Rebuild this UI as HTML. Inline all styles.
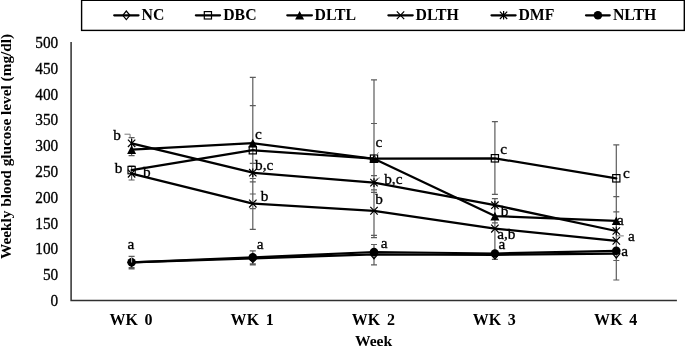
<!DOCTYPE html>
<html><head><meta charset="utf-8"><title>Weekly blood glucose level</title>
<style>
html,body{margin:0;padding:0;background:#fff;}
body{width:685px;height:346px;overflow:hidden;}
svg{display:block;will-change:transform;}
text{font-family:"Liberation Serif","Times New Roman",serif;font-size:15.3px;fill:#000;}
.b{font-weight:bold;stroke:none;}
.r{stroke:#000;stroke-width:0.3;}
.ln{fill:none;stroke:#000;stroke-width:2.25;stroke-linecap:round;stroke-linejoin:round;}
.eb{stroke:#5c5c5c;stroke-width:1.2;fill:none;}
.ld{stroke:#7a7a7a;stroke-width:1;fill:none;}
.mk{stroke:#000;stroke-width:1.2;fill:none;}
</style></head><body>
<svg width="685" height="346" viewBox="0 0 685 346">
<rect x="0" y="0" width="685" height="346" fill="#fff"/>
<rect x="81.6" y="0.3" width="602.7" height="30.1" fill="#fff" stroke="#000" stroke-width="1.4"/>
<path class="ln" stroke-width="2.4" d="M114.2,15.3 L138.5,15.3"/>
<path class="mk" d="M122.8,15.3 L126.3,11.0 L129.9,15.3 L126.3,19.6 Z"/>
<text class="b" x="141.6" y="20.4" style="font-size:15.8px">NC</text>
<path class="ln" stroke-width="2.4" d="M195.9,15.3 L220.0,15.3"/>
<rect class="mk" x="204.3" y="11.6" width="7.2" height="7.4" stroke-width="1.2"/>
<text class="b" x="223.2" y="20.4" style="font-size:15.8px">DBC</text>
<path class="ln" stroke-width="2.4" d="M287.3,15.3 L311.9,15.3"/>
<path d="M299.6,10.9 L304.1,19.6 L295.1,19.6 Z" fill="#000"/>
<text class="b" x="314.6" y="20.4" style="font-size:15.8px">DLTL</text>
<path class="ln" stroke-width="2.4" d="M388.4,15.3 L412.7,15.3"/>
<path class="mk" d="M396.8,11.4 L404.2,19.2 M404.2,11.4 L396.8,19.2"/>
<text class="b" x="415.6" y="20.4" style="font-size:15.8px">DLTH</text>
<path class="ln" stroke-width="2.4" d="M491.5,15.3 L515.6,15.3"/>
<path class="mk" d="M499.9,11.6 L507.2,19.0 M507.2,11.6 L499.9,19.0 M503.6,11.0 L503.6,19.6"/>
<text class="b" x="518.4" y="20.4" style="font-size:15.8px">DMF</text>
<path class="ln" stroke-width="2.4" d="M586.0,15.3 L609.7,15.3"/>
<circle cx="597.9" cy="15.3" r="4.3" fill="#000"/>
<text class="b" x="612.9" y="20.4" style="font-size:15.8px">NLTH</text>
<path d="M71.1,42 L71.1,300.4 L676.9,300.4" fill="none" stroke="#303030" stroke-width="1.5"/>
<text class="r" transform="matrix(1 0 0 1.1 0 -30.60)" x="58.2" y="306.0" text-anchor="end">0</text>
<text class="r" transform="matrix(1 0 0 1.1 0 -28.02)" x="58.2" y="280.2" text-anchor="end">50</text>
<text class="r" transform="matrix(1 0 0 1.1 0 -25.44)" x="58.2" y="254.4" text-anchor="end">100</text>
<text class="r" transform="matrix(1 0 0 1.1 0 -22.86)" x="58.2" y="228.6" text-anchor="end">150</text>
<text class="r" transform="matrix(1 0 0 1.1 0 -20.28)" x="58.2" y="202.8" text-anchor="end">200</text>
<text class="r" transform="matrix(1 0 0 1.1 0 -17.70)" x="58.2" y="177.0" text-anchor="end">250</text>
<text class="r" transform="matrix(1 0 0 1.1 0 -15.12)" x="58.2" y="151.2" text-anchor="end">300</text>
<text class="r" transform="matrix(1 0 0 1.1 0 -12.54)" x="58.2" y="125.4" text-anchor="end">350</text>
<text class="r" transform="matrix(1 0 0 1.1 0 -9.96)" x="58.2" y="99.6" text-anchor="end">400</text>
<text class="r" transform="matrix(1 0 0 1.1 0 -7.38)" x="58.2" y="73.8" text-anchor="end">450</text>
<text class="r" transform="matrix(1 0 0 1.1 0 -4.80)" x="58.2" y="48.0" text-anchor="end">500</text>
<text class="b" x="131.0" y="324.5" text-anchor="middle" style="font-size:16px;word-spacing:2.4px;letter-spacing:0.1px">WK 0</text>
<text class="b" x="252.2" y="324.5" text-anchor="middle" style="font-size:16px;word-spacing:2.4px;letter-spacing:0.1px">WK 1</text>
<text class="b" x="373.4" y="324.5" text-anchor="middle" style="font-size:16px;word-spacing:2.4px;letter-spacing:0.1px">WK 2</text>
<text class="b" x="494.3" y="324.5" text-anchor="middle" style="font-size:16px;word-spacing:2.4px;letter-spacing:0.1px">WK 3</text>
<text class="b" x="615.7" y="324.5" text-anchor="middle" style="font-size:16px;word-spacing:2.4px;letter-spacing:0.1px">WK 4</text>
<text class="b" x="373.6" y="345.5" text-anchor="middle" style="font-size:15.6px">Week</text>
<text class="b" transform="translate(11,146.4) rotate(-90)" text-anchor="middle">Weekly blood glucose level (mg/dl)</text>
<path class="eb" d="M131.6,137.6 L131.6,155.7 M128.6,137.6 L134.6,137.6 M128.6,155.7 L134.6,155.7"/>
<path class="eb" d="M131.6,166.2 L131.6,180.0 M128.6,166.2 L134.6,166.2 M128.6,180.0 L134.6,180.0"/>
<path class="eb" d="M131.6,256.4 L131.6,268.8 M128.6,256.4 L134.6,256.4 M128.6,267.7 L134.6,267.7 M128.6,268.8 L134.6,268.8"/>
<path class="eb" d="M252.8,77.3 L252.8,229.4 M249.8,77.3 L255.8,77.3 M249.8,105.7 L255.8,105.7 M249.8,163.4 L255.8,163.4 M249.8,178.5 L255.8,178.5 M249.8,181.9 L255.8,181.9 M249.8,194.0 L255.8,194.0 M249.8,208.7 L255.8,208.7 M249.8,229.4 L255.8,229.4"/>
<path class="eb" d="M252.8,250.8 L252.8,265.0 M249.8,250.8 L255.8,250.8 M249.8,263.8 L255.8,263.8 M249.8,265.0 L255.8,265.0"/>
<path class="eb" d="M374.0,79.8 L374.0,237.7 M371.0,79.8 L377.0,79.8 M371.0,123.5 L377.0,123.5 M371.0,175.7 L377.0,175.7 M371.0,189.8 L377.0,189.8 M371.0,192.3 L377.0,192.3 M371.0,235.4 L377.0,235.4 M371.0,237.7 L377.0,237.7"/>
<path class="eb" d="M374.0,244.5 L374.0,264.9 M371.0,244.5 L377.0,244.5 M371.0,264.9 L377.0,264.9"/>
<path class="eb" d="M494.9,121.7 L494.9,194.3 M491.9,121.7 L497.9,121.7 M491.9,194.3 L497.9,194.3"/>
<path class="eb" d="M494.9,198.6 L494.9,259.3 M491.9,198.6 L497.9,198.6 M491.9,222.9 L497.9,222.9 M491.9,259.3 L497.9,259.3"/>
<path class="eb" d="M616.3,144.9 L616.3,280.0 M613.3,144.9 L619.3,144.9 M613.3,196.6 L619.3,196.6 M613.3,211.8 L619.3,211.8 M613.3,260.5 L619.3,260.5 M613.3,280.0 L619.3,280.0"/>
<path class="ln" d="M131.6,262.3 L252.8,258.3 L374.0,254.4 L494.9,254.8 L616.3,253.7"/>
<path class="ln" d="M131.6,170.1 L252.8,150.2 L374.0,158.7 L494.9,158.3 L616.3,178.3"/>
<path class="ln" d="M131.6,149.6 L252.8,143.2 L374.0,158.8 L494.9,216.1 L616.3,220.8"/>
<path class="ln" d="M131.6,173.6 L252.8,203.6 L374.0,210.8 L494.9,228.6 L616.3,240.8"/>
<path class="ln" d="M131.6,143.3 L252.8,172.7 L374.0,182.6 L494.9,205.2 L616.3,231.0"/>
<path class="ln" d="M131.6,262.3 L252.8,257.4 L374.0,252.0 L494.9,253.5 L616.3,250.8"/>
<path class="mk" d="M128.0,262.3 L131.6,258.0 L135.2,262.3 L131.6,266.6 Z"/>
<path class="mk" d="M249.2,258.3 L252.8,254.0 L256.4,258.3 L252.8,262.6 Z"/>
<path class="mk" d="M370.4,254.4 L374.0,250.1 L377.6,254.4 L374.0,258.7 Z"/>
<path class="mk" d="M491.3,254.8 L494.9,250.5 L498.5,254.8 L494.9,259.1 Z"/>
<path class="mk" d="M612.7,253.7 L616.3,249.4 L619.9,253.7 L616.3,258.0 Z"/>
<rect class="mk" x="128.0" y="166.4" width="7.2" height="7.4" stroke-width="1.2"/>
<rect class="mk" x="249.2" y="146.5" width="7.2" height="7.4" stroke-width="1.2"/>
<rect class="mk" x="370.4" y="155.0" width="7.2" height="7.4" stroke-width="1.2"/>
<rect class="mk" x="491.3" y="154.6" width="7.2" height="7.4" stroke-width="1.2"/>
<rect class="mk" x="612.7" y="174.6" width="7.2" height="7.4" stroke-width="1.2"/>
<path d="M131.6,145.2 L136.1,153.9 L127.1,153.9 Z" fill="#000"/>
<path d="M252.8,138.8 L257.3,147.5 L248.3,147.5 Z" fill="#000"/>
<path d="M374.0,154.4 L378.5,163.1 L369.5,163.1 Z" fill="#000"/>
<path d="M494.9,211.7 L499.4,220.4 L490.4,220.4 Z" fill="#000"/>
<path d="M616.3,216.4 L620.8,225.1 L611.8,225.1 Z" fill="#000"/>
<path class="mk" d="M127.9,169.7 L135.3,177.5 M135.3,169.7 L127.9,177.5"/>
<path class="mk" d="M249.1,199.7 L256.5,207.5 M256.5,199.7 L249.1,207.5"/>
<path class="mk" d="M370.3,206.9 L377.7,214.7 M377.7,206.9 L370.3,214.7"/>
<path class="mk" d="M491.2,224.7 L498.6,232.5 M498.6,224.7 L491.2,232.5"/>
<path class="mk" d="M612.6,236.9 L620.0,244.7 M620.0,236.9 L612.6,244.7"/>
<path class="mk" d="M127.9,139.6 L135.3,147.0 M135.3,139.6 L127.9,147.0 M131.6,139.0 L131.6,147.6"/>
<path class="mk" d="M249.1,169.0 L256.5,176.4 M256.5,169.0 L249.1,176.4 M252.8,168.4 L252.8,177.0"/>
<path class="mk" d="M370.3,178.9 L377.7,186.3 M377.7,178.9 L370.3,186.3 M374.0,178.3 L374.0,186.9"/>
<path class="mk" d="M491.2,201.5 L498.6,208.9 M498.6,201.5 L491.2,208.9 M494.9,200.9 L494.9,209.5"/>
<path class="mk" d="M612.6,227.3 L620.0,234.7 M620.0,227.3 L612.6,234.7 M616.3,226.7 L616.3,235.3"/>
<circle cx="131.6" cy="262.3" r="4.3" fill="#000"/>
<circle cx="252.8" cy="257.4" r="4.3" fill="#000"/>
<circle cx="374.0" cy="252.0" r="4.3" fill="#000"/>
<circle cx="494.9" cy="253.5" r="4.3" fill="#000"/>
<circle cx="616.3" cy="250.8" r="4.3" fill="#000"/>
<path d="M131.6,257 L131.6,262.5" stroke="#c8c8c8" stroke-width="0.9" fill="none"/>
<path class="ld" d="M124.5,134.2 L130.1,134.2 L130.1,137.6"/>
<path class="ld" d="M378.6,152.3 L374.5,157.5"/>
<path class="ld" d="M616.7,235.9 L623.8,235.9"/>
<path class="ld" d="M375.7,179.6 L379.7,177.7"/>
<text class="r" transform="matrix(1 0 0 1.0 0 0.00)" x="117.1" y="139.6" text-anchor="middle">b</text>
<text class="r" transform="matrix(1 0 0 1.0 0 0.00)" x="118.6" y="173.0" text-anchor="middle">b</text>
<text class="r" transform="matrix(1 0 0 1.0 0 0.00)" x="146.8" y="176.6" text-anchor="middle">b</text>
<text class="r" transform="matrix(1 0 0 1.0 0 0.00)" x="130.8" y="248.9" text-anchor="middle">a</text>
<text class="r" transform="matrix(1 0 0 1.0 0 0.00)" x="258.4" y="138.6" text-anchor="middle">c</text>
<text class="r" transform="matrix(1 0 0 1.0 0 0.00)" x="264.2" y="170.3" text-anchor="middle">b,c</text>
<text class="r" transform="matrix(1 0 0 1.0 0 0.00)" x="264.7" y="201.3" text-anchor="middle">b</text>
<text class="r" transform="matrix(1 0 0 1.0 0 0.00)" x="260.1" y="248.8" text-anchor="middle">a</text>
<text class="r" transform="matrix(1 0 0 1.0 0 0.00)" x="379.0" y="146.7" text-anchor="middle">c</text>
<text class="r" transform="matrix(1 0 0 1.0 0 0.00)" x="393.3" y="184.3" text-anchor="middle">b,c</text>
<text class="r" transform="matrix(1 0 0 1.0 0 0.00)" x="379.0" y="203.6" text-anchor="middle">b</text>
<text class="r" transform="matrix(1 0 0 1.0 0 0.00)" x="384.1" y="247.5" text-anchor="middle">a</text>
<text class="r" transform="matrix(1 0 0 1.0 0 0.00)" x="503.6" y="154.0" text-anchor="middle">c</text>
<text class="r" transform="matrix(1 0 0 1.0 0 0.00)" x="504.7" y="216.0" text-anchor="middle">b</text>
<text class="r" transform="matrix(1 0 0 1.0 0 0.00)" x="506.3" y="239.2" text-anchor="middle">a,b</text>
<text class="r" transform="matrix(1 0 0 1.0 0 0.00)" x="502.0" y="249.3" text-anchor="middle">a</text>
<text class="r" transform="matrix(1 0 0 1.0 0 0.00)" x="626.4" y="178.0" text-anchor="middle">c</text>
<text class="r" transform="matrix(1 0 0 1.0 0 0.00)" x="620.4" y="224.6" text-anchor="middle">a</text>
<text class="r" transform="matrix(1 0 0 1.0 0 0.00)" x="631.4" y="241.0" text-anchor="middle">a</text>
<text class="r" transform="matrix(1 0 0 1.0 0 0.00)" x="624.7" y="255.8" text-anchor="middle">a</text>
</svg></body></html>
